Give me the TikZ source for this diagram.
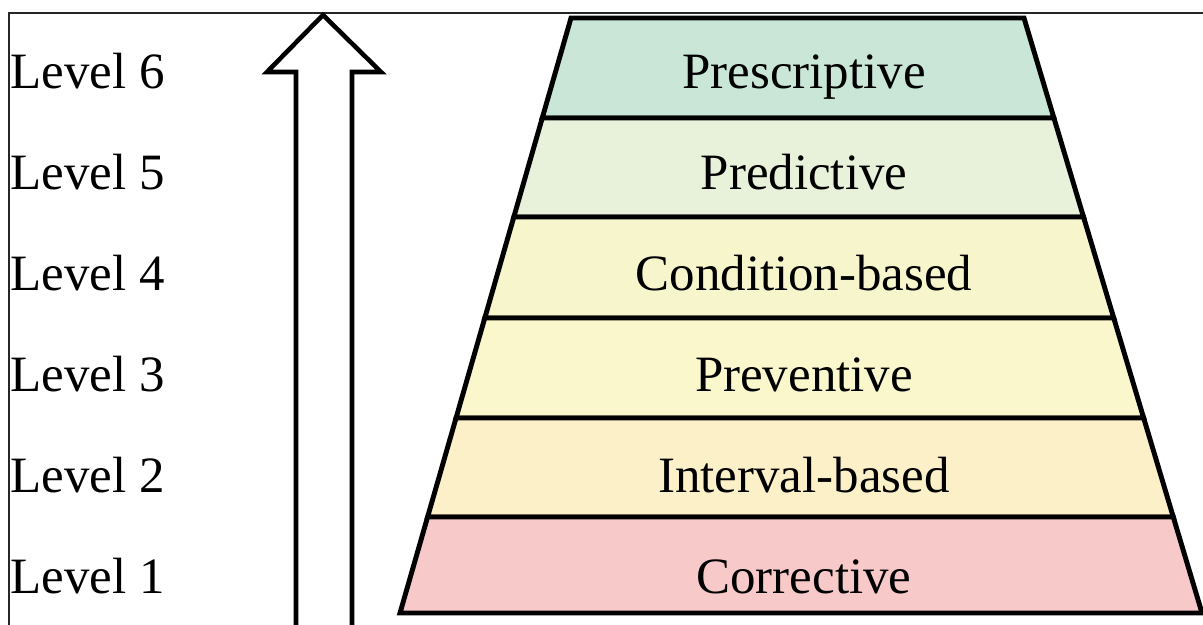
\documentclass[tikz,border=0pt]{standalone}
\usepackage{fontspec}
\setmainfont{Liberation Serif}

\definecolor{presc}{RGB}{201,230,215}
\definecolor{predi}{RGB}{232,242,219}
\definecolor{condi}{RGB}{246,245,203}
\definecolor{preve}{RGB}{250,247,205}
\definecolor{inter}{RGB}{252,240,201}
\definecolor{corre}{RGB}{248,201,201}

\begin{document}
\begin{tikzpicture}[
    x=0.02cm, y=-0.02cm,
    layer/.style={draw=black, line width=2.8pt, line join=miter},
    lbl/.style={font=\fontsize{29}{34}\selectfont, inner sep=0pt, anchor=base},
]
\useasboundingbox (0,0) rectangle (1203,625);

% Frame
\draw[line width=1.4pt, black!85] (9,625) -- (9,13) -- (1203,13);

% Pyramid layers, top to bottom
\foreach \i/\ya/\yb/\txt/\col in {
    6/18/118/Prescriptive/presc,
    5/118/217/Predictive/predi,
    4/217/318/Condition-based/condi,
    3/318/418/Preventive/preve,
    2/418/517/Interval-based/inter,
    1/517/613/Corrective/corre} {
    \pgfmathsetmacro\xla{571-(171/595)*(\ya-18)}
    \pgfmathsetmacro\xlb{571-(171/595)*(\yb-18)}
    \pgfmathsetmacro\xra{1024+(178/595)*(\ya-18)}
    \pgfmathsetmacro\xrb{1024+(178/595)*(\yb-18)}
    \pgfmathsetmacro\yt{89+100.8*(6-\i)}
    \filldraw[layer, fill=\col] (\xla,\ya) -- (\xra,\ya) -- (\xrb,\yb) -- (\xlb,\yb) -- cycle;
    \node[lbl] (layer\i) at (804,\yt) {\txt};
    \node[lbl, anchor=base west] (level\i) at (10,\yt) {Level \i};
}

% Upward arrow
\filldraw[fill=white, draw=black, line width=2.6pt, line join=miter]
    (296,625) -- (296,72) -- (267,72) -- (323,15) -- (381,72) -- (352,72) -- (352,625);
\end{tikzpicture}
\end{document}
